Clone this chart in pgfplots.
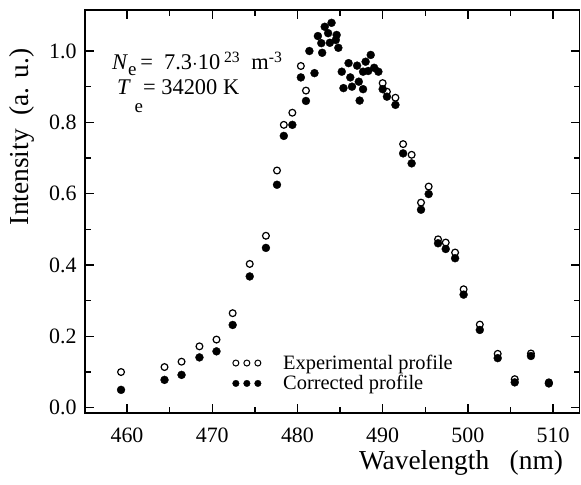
\documentclass[border=0pt]{standalone}
\usepackage{fontspec}
\setmainfont{Liberation Serif}
\usepackage{pgfplots}
\pgfplotsset{compat=1.18}

\begin{document}
\begin{tikzpicture}[x=1bp,y=1bp]
\useasboundingbox (0,0) rectangle (581,485);
\begin{axis}[
  at={(85bp,72.3bp)}, anchor=south west,
  scale only axis,
  width=494.5bp, height=402.7bp,
  xmin=455.07, xmax=513.1,
  ymin=-0.014, ymax=1.115,
  xtick={460,470,...,510}, minor x tick num=1,
  ytick={0,0.2,0.4,0.6,0.8,1.0}, minor y tick num=1,
  tick align=inside,
  major tick length=9bp, minor tick length=6bp,
  axis line style={line width=1.8bp},
  every tick/.style={line width=1.4bp, black},
  /pgf/number format/assume math mode=true,
  tick label style={font=\fontsize{22}{26}\selectfont},
  xticklabel style={yshift=-12bp},
  yticklabel style={xshift=-5bp, /pgf/number format/fixed,
    /pgf/number format/fixed zerofill, /pgf/number format/precision=1},
  xlabel={Wavelength\hspace{0.75em}(nm)},
  xlabel style={font=\fontsize{27.5}{30}\selectfont, inner sep=0pt,
    at={(axis description cs:0.967,-0.14)}, anchor=base east},
  ylabel={Intensity\hspace{0.5em}(a. u.)},
  ylabel style={font=\fontsize{27.5}{30}\selectfont, inner sep=0pt,
    at={(axis description cs:-0.127,0.685)}, anchor=center},
  legend style={draw=none, fill=none, at={(axis description cs:0.298,0.146)},
    anchor=north west, font=\fontsize{20.5}{21}\selectfont,
    inner sep=0pt, row sep=2.5bp, nodes={inner sep=1bp},
    /tikz/every odd column/.append style={column sep=21bp}},
  legend cell align=left,
]

% experimental profile (open circles)
\addplot[only marks, mark=*, mark size=3.4bp,
  mark options={fill=white, draw=black, line width=1.2bp},
  legend image code/.code={\draw[mark size=3bp,
      mark options={fill=white, draw=black, line width=1bp}]
    plot coordinates {(0bp,0bp) (11bp,0bp) (22bp,0bp)};}]
  table {
459.3 0.100
464.4 0.114
466.4 0.129
468.5 0.172
470.5 0.191
472.4 0.265
474.4 0.403
476.3 0.482
477.6 0.665
478.4 0.793
479.4 0.827
480.4 0.958
481.0 0.889
490.0 0.910
490.5 0.886
491.5 0.869
492.4 0.739
493.4 0.709
494.5 0.575
495.4 0.620
496.5 0.472
497.4 0.463
498.5 0.435
499.5 0.332
501.4 0.233
503.5 0.151
505.5 0.080
507.4 0.152
509.5 0.071
};
\addlegendentry{Experimental profile}

% corrected profile (filled circles)
\addplot[only marks, mark=*, mark size=4bp,
  mark options={fill=black, draw=black, line width=0.3bp},
  legend image code/.code={\draw[mark size=3.3bp]
    plot coordinates {(0bp,0bp) (11bp,0bp) (22bp,0bp)};}]
  table {
459.3 0.050
464.4 0.078
466.4 0.092
468.5 0.141
470.5 0.158
472.4 0.232
474.4 0.368
476.3 0.448
477.6 0.625
478.4 0.762
479.4 0.793
480.4 0.926
481.0 0.860
481.4 1.000
482.0 0.938
482.4 1.042
482.8 1.022
482.9 0.995
483.2 1.068
483.6 1.050
483.8 1.023
484.0 1.079
484.5 1.031
484.6 1.045
484.8 1.009
485.2 0.942
485.4 0.896
486.0 0.966
486.2 0.926
486.4 0.900
487.0 0.959
487.2 0.914
487.3 0.861
487.7 0.893
487.7 0.942
488.0 0.970
488.3 0.944
488.6 0.989
489.0 0.953
489.5 0.942
490.0 0.893
490.5 0.872
491.5 0.849
492.4 0.713
493.4 0.685
494.5 0.555
495.4 0.599
496.5 0.461
497.4 0.445
498.5 0.419
499.5 0.317
501.4 0.218
503.5 0.139
505.5 0.071
507.4 0.145
509.5 0.068
};
\addlegendentry{Corrected profile}

\node[anchor=base west, inner sep=0pt, font=\fontsize{22.5}{26}\selectfont]
  at (axis description cs:0.0546,0.851)
  {\textit{N}\raisebox{-0.25em}{\fontsize{19}{22}\selectfont e}\,=\ \ 7.3$\cdot$10\,\textsuperscript{23}\ \ m\textsuperscript{-3}};
\node[anchor=base west, inner sep=0pt, font=\fontsize{22.5}{26}\selectfont]
  at (axis description cs:0.0647,0.789)
  {\textit{T}\,\raisebox{-0.8em}{\fontsize{19}{22}\selectfont e}= 34200 K};
\end{axis}
\end{tikzpicture}
\end{document}
